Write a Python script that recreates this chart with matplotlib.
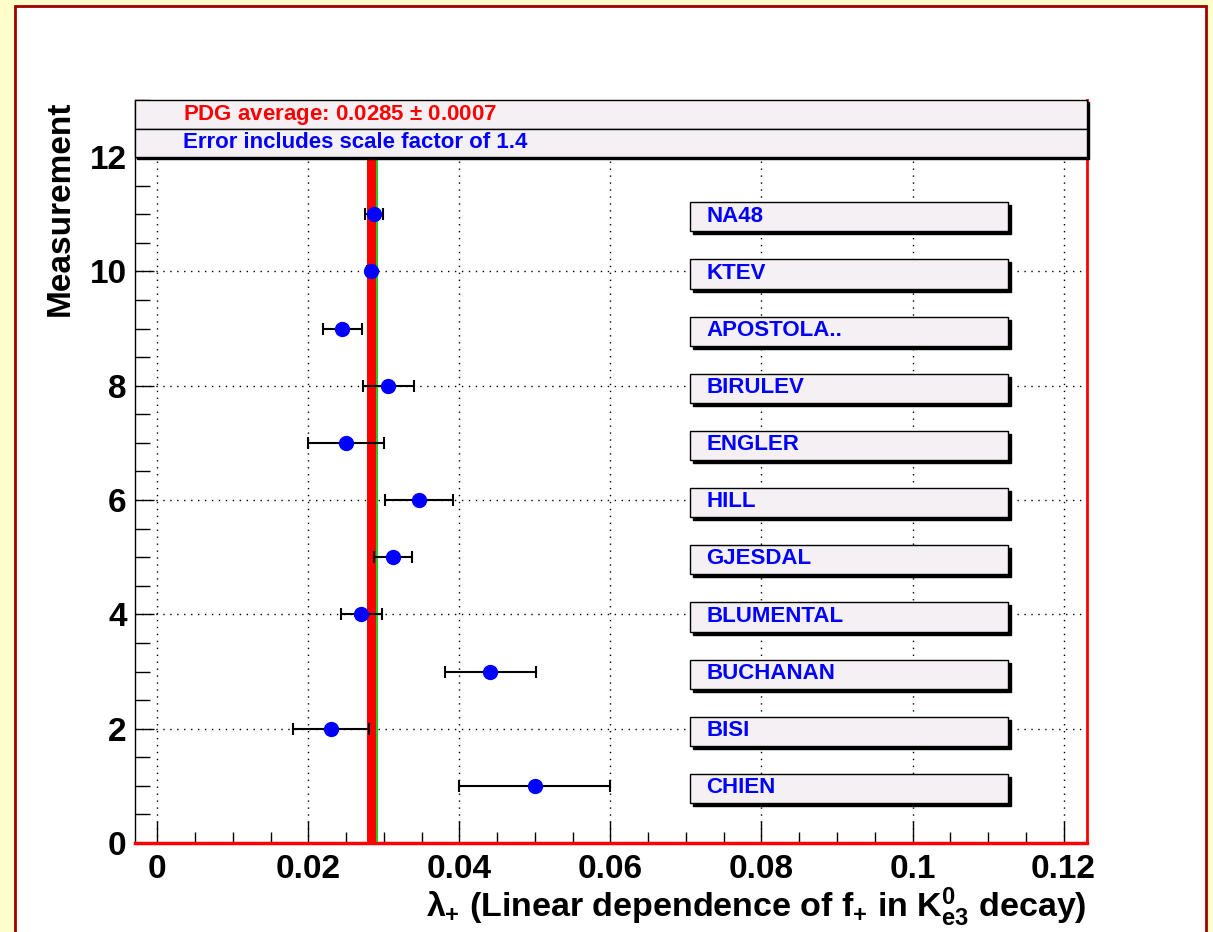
import matplotlib
matplotlib.use("Agg")
from matplotlib import pyplot as plt
from matplotlib.patches import Rectangle
from matplotlib.ticker import MultipleLocator
import matplotlib.transforms as mtransforms

# measurements, bottom to top (y = 1 .. 11)
names = ["CHIEN", "BISI", "BUCHANAN", "BLUMENTAL", "GJESDAL", "HILL",
         "ENGLER", "BIRULEV", "APOSTOLA..", "KTEV", "NA48"]
values = [0.0500, 0.0230, 0.0441, 0.0270, 0.0312, 0.0347,
          0.0250, 0.0306, 0.0245, 0.0283, 0.0287]
errors = [0.0100, 0.0050, 0.0060, 0.0027, 0.0025, 0.0045,
          0.0050, 0.0034, 0.0026, 0.0005, 0.0012]
pdg_avg = 0.0285
pdg_err = 0.0007
scale_factor = 1.4
xticks = [0, 0.02, 0.04, 0.06, 0.08, 0.1, 0.12]
xticklabels = ["0", "0.02", "0.04", "0.06", "0.08", "0.1", "0.12"]

plt.rcParams['font.family'] = ['Liberation Sans', 'DejaVu Sans']
plt.rcParams['font.weight'] = 'bold'
plt.rcParams['mathtext.fontset'] = 'custom'
plt.rcParams['mathtext.rm'] = 'Liberation Sans:bold'
plt.rcParams['mathtext.it'] = 'Liberation Sans:bold'
plt.rcParams['mathtext.bf'] = 'Liberation Sans:bold'

fig = plt.figure(figsize=(12.13, 9.32), dpi=100, facecolor="#FFFFCC")
# white canvas with dark red border (behind the axes)
fig.patches.append(Rectangle((15/1213, -0.02), (1206-15)/1213, (932-6)/932 + 0.02,
                             transform=fig.transFigure, facecolor="white",
                             edgecolor="#A00000", lw=2, zorder=-10))

ax = fig.add_axes([135/1213, 1 - 843/932, (1087-135)/1213, (843-100)/932])
ax.set_facecolor("none")
ax.set_xlim(-0.00295, 0.1231)
ax.set_ylim(0, 13)

# PDG band
ax.axvspan(pdg_avg - pdg_err, pdg_avg + pdg_err - 0.0002, ymin=0, ymax=12/13,
           color="red", lw=0, zorder=2)
ax.plot([pdg_avg + pdg_err - 0.0001]*2, [0, 12], color="#22CC22", lw=1.5, zorder=2)

ys = list(range(1, len(names) + 1))
ax.errorbar(values, ys, xerr=errors, fmt="o", color="blue", markersize=10,
            ecolor="black", elinewidth=1.5, capsize=4, capthick=1.5, zorder=4)

# label boxes with shadow
shadow = ax.transData + mtransforms.ScaledTranslation(3/100, -3/100, fig.dpi_scale_trans)
for y, name in zip(ys, names):
    ax.add_patch(Rectangle((0.0706, y - 0.30), 0.0421, 0.51, transform=shadow,
                           facecolor="black", edgecolor="black", lw=1, zorder=5))
    ax.add_patch(Rectangle((0.0706, y - 0.30), 0.0421, 0.51, facecolor="#F4F0F4",
                           edgecolor="black", lw=1, zorder=6))
    ax.text(0.0727, y - 0.03, name, color="blue", fontsize=16, fontweight="bold",
            va="center", ha="left", zorder=7)

# header boxes
hshadow = ax.transAxes + mtransforms.ScaledTranslation(2/100, -2/100, fig.dpi_scale_trans)
for y0 in [12.5/13, 12/13]:
    ax.add_patch(Rectangle((0, y0), 1.0, 0.5/13, transform=hshadow, facecolor="black",
                           edgecolor="black", lw=1, zorder=8, clip_on=False))
    ax.add_patch(Rectangle((0, y0), 1.0, 0.5/13, transform=ax.transAxes,
                           facecolor="#F4F0F4", edgecolor="black", lw=1, zorder=9,
                           clip_on=False))
ax.text(0.0504, 12.74/13, "PDG average: %.4f $\\pm$ %.4f" % (pdg_avg, pdg_err),
        transform=ax.transAxes, color="red", fontsize=16, fontweight="bold",
        va="center", ha="left", zorder=10)
ax.text(0.0504, 12.25/13, "Error includes scale factor of %.1f" % scale_factor,
        transform=ax.transAxes, color="blue", fontsize=16, fontweight="bold",
        va="center", ha="left", zorder=10)

# axes styling
ax.spines["top"].set_visible(False)
ax.spines["right"].set_color("red")
ax.spines["right"].set_linewidth(2)
ax.spines["bottom"].set_color("red")
ax.spines["bottom"].set_linewidth(2.5)
ax.spines["left"].set_color("black")
ax.spines["left"].set_linewidth(1)

ax.set_xticks(xticks)
ax.set_xticklabels(xticklabels)
ax.xaxis.set_minor_locator(MultipleLocator(0.005))
ax.set_yticks(range(0, 13, 2))
ax.yaxis.set_minor_locator(MultipleLocator(0.5))
ax.tick_params(axis="x", which="major", direction="in", length=16, width=1,
               labelsize=24, pad=8)
ax.tick_params(axis="x", which="minor", direction="in", length=8, width=1)
ax.tick_params(axis="y", which="major", direction="in", length=14, width=1,
               labelsize=24, pad=6)
ax.tick_params(axis="y", which="minor", direction="in", length=11, width=1)
ax.tick_params(top=False, right=False, which="both")
for lab in ax.get_xticklabels() + ax.get_yticklabels():
    lab.set_fontweight("bold")

ax.grid(True, which="major", color="black", linestyle=(0, (1, 4)), lw=1)
ax.set_axisbelow(True)

ax.set_xlabel(r"$\lambda_{+}$ (Linear dependence of f$_{+}$ in K$^{0}_{e3}$ decay)",
              fontsize=24.5, fontweight="bold", loc="right", labelpad=0)
ax.set_ylabel("Measurement", fontsize=24, fontweight="bold", loc="top", labelpad=10)

fig.savefig("out.png", dpi=100, facecolor=fig.get_facecolor())
